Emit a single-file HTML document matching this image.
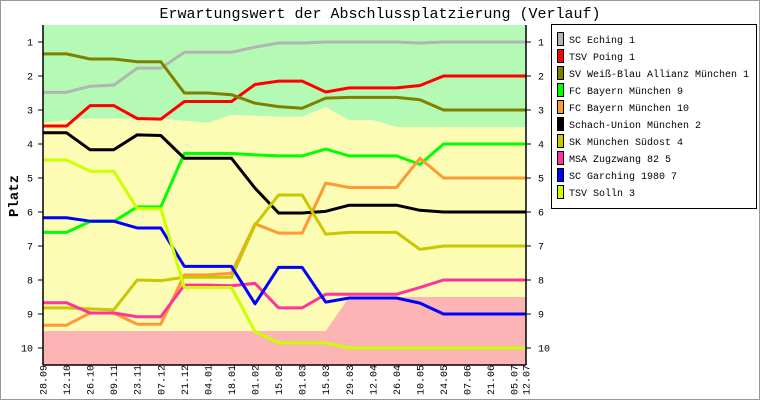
<!DOCTYPE html>
<html><head><meta charset="utf-8"><style>
html,body{margin:0;padding:0;background:#fff}
svg{display:block}
text{font-family:"Liberation Mono",monospace}
</style></head><body>
<svg id="chart" width="760" height="400" viewBox="0 0 760 400">
<rect x="0.5" y="0.5" width="759" height="399" fill="#fff" stroke="#999"/>
<text x="380" y="18" text-anchor="middle" font-size="15">Erwartungswert der Abschlussplatzierung (Verlauf)</text>
<g id="plot"></g>
<text transform="translate(18,196) rotate(-90)" text-anchor="middle" font-size="14" font-weight="bold">Platz</text>
<g id="legend"></g>
</svg>
<script>
const dates=["28.09","12.10","26.10","09.11","23.11","07.12","21.12","04.01","18.01","01.02","15.02","01.03","15.03","29.03","12.04","26.04","10.05","24.05","07.06","21.06","05.07","12.07"];
const days=[0,14,28,42,56,70,84,98,112,126,140,154,168,182,196,210,224,238,252,266,280,287];
const yTicks=[1,2,3,4,5,6,7,8,9,10];
const names=["SC Eching 1","TSV Poing 1","SV Weiß-Blau Allianz München 1","FC Bayern München 9","FC Bayern München 10","Schach-Union München 2","SK München Südost 4","MSA Zugzwang 82 5","SC Garching 1980 7","TSV Solln 3"];
const colors=["#b4b4b4","#ff0000","#808000","#00ff00","#ff9933","#000000","#c8c800","#ff3399","#0000ff","#ccff00"];
const sEching=[2.48,2.48,2.3,2.27,1.77,1.77,1.3,1.3,1.3,1.15,1.03,1.03,1.0,1.0,1.0,1.0,1.03,1,1,1,1,1];
const sPoing=[3.47,3.47,2.87,2.87,3.25,3.27,2.75,2.75,2.75,2.25,2.15,2.15,2.47,2.35,2.35,2.35,2.28,2,2,2,2,2];
const sWeissBlau=[1.35,1.35,1.5,1.5,1.58,1.58,2.5,2.5,2.55,2.8,2.9,2.95,2.65,2.63,2.63,2.63,2.7,3,3,3,3,3];
const sFCB9=[6.6,6.6,6.28,6.28,5.85,5.85,4.28,4.28,4.28,4.32,4.35,4.35,4.15,4.35,4.35,4.35,4.6,4,4,4,4,4];
const sFCB10=[9.33,9.33,8.97,8.97,9.3,9.3,7.85,7.85,7.8,6.35,6.62,6.62,5.15,5.28,5.28,5.28,4.42,5,5,5,5,5];
const sSchach=[3.67,3.67,4.17,4.17,3.73,3.75,4.42,4.42,4.42,5.3,6.03,6.03,5.98,5.8,5.8,5.8,5.95,6,6,6,6,6];
const sSuedost=[8.82,8.82,8.85,8.88,8.0,8.02,7.92,7.92,7.92,6.38,5.5,5.5,6.65,6.6,6.6,6.6,7.1,7,7,7,7,7];
const sZugzwang=[8.67,8.67,8.97,8.97,9.08,9.08,8.15,8.15,8.17,8.1,8.82,8.82,8.42,8.42,8.42,8.42,8.22,8,8,8,8,8];
const sGarching=[6.17,6.17,6.27,6.27,6.47,6.47,7.6,7.6,7.6,8.7,7.63,7.63,8.65,8.53,8.53,8.53,8.68,9,9,9,9,9];
const sSolln=[4.47,4.47,4.8,4.8,5.9,5.9,8.22,8.22,8.22,9.52,9.85,9.85,9.85,10,10,10,10,10,10,10,10,10];
const bandTop=[3.38,3.3,3.25,3.25,3.25,3.25,3.32,3.38,3.15,3.17,3.2,3.2,2.92,3.3,3.3,3.5,3.5,3.5,3.5,3.5,3.5,3.5];
const bandBottom=[9.5,9.5,9.5,9.5,9.5,9.5,9.5,9.5,9.5,9.5,9.5,9.5,9.5,8.5,8.5,8.5,8.5,8.5,8.5,8.5,8.5,8.5];
const series=[sEching,sPoing,sWeissBlau,sFCB9,sFCB10,sSchach,sSuedost,sZugzwang,sGarching,sSolln];

const NS="http://www.w3.org/2000/svg";
const L=43,R=526,T=25,B=365;
const xS=d=>L+(d-days[0])/(days[days.length-1]-days[0])*(R-L);
const yS=v=>42+(v-1)*34;
function mk(tag,attrs,parent){const e=document.createElementNS(NS,tag);for(const k in attrs)e.setAttribute(k,attrs[k]);parent.appendChild(e);return e;}
const plot=document.getElementById('plot');

let pts=days.map((d,i)=>xS(d)+","+yS(bandTop[i]));
let g=mk('polygon',{points:`${L},${T} ${R},${T} ${R},${yS(bandTop[bandTop.length-1])} `+pts.slice().reverse().join(" "),fill:"#b4fab4"},plot);


let yb=mk('polygon',{points:pts.join(" ")+" "+days.map((d,i)=>xS(d)+","+yS(bandBottom[i])).reverse().join(" "),fill:"#fdfcb4"},plot);


let pb=mk('polygon',{points:days.map((d,i)=>xS(d)+","+yS(bandBottom[i])).join(" ")+` ${R},${B} ${L},${B}`,fill:"#fdb4b4"},plot);



series.forEach((s,k)=>{
  const p=mk('polyline',{points:s.map((v,i)=>xS(days[i])+","+yS(v)).join(" "),fill:"none",stroke:colors[k],"stroke-width":3,"stroke-linejoin":"round"},plot);
  
  
});

mk('line',{x1:L,y1:T,x2:L,y2:B,stroke:"#000","stroke-width":1.5},plot);
mk('line',{x1:R,y1:T,x2:R,y2:B,stroke:"#000","stroke-width":1.5},plot);
mk('line',{x1:L,y1:B,x2:R,y2:B,stroke:"#000","stroke-width":1.5},plot);
yTicks.forEach(t=>{
  mk('line',{x1:L-5,y1:yS(t),x2:L,y2:yS(t),stroke:"#000"},plot);
  mk('line',{x1:R,y1:yS(t),x2:R+5,y2:yS(t),stroke:"#000"},plot);
  const a=mk('text',{x:33,y:yS(t)+3.5,"text-anchor":"end","font-size":10},plot);a.textContent=t;
  
  
  const b=mk('text',{x:538,y:yS(t)+3.5,"font-size":10},plot);b.textContent=t;
  
  
});
dates.forEach((d,i)=>{
  const x=xS(days[i]);
  const t=mk('text',{transform:`translate(${x+3.5},395) rotate(-90)`,"font-size":10},plot);t.textContent=d;
  
  
});

const lg=document.getElementById('legend');
mk('rect',{x:551.5,y:24.5,width:205,height:184,fill:"#fff",stroke:"#000"},lg);
names.forEach((n,k)=>{
  const y=32+k*17;
  const r=mk('rect',{x:557.5,y:y+0.5,width:6,height:13,fill:colors[k],stroke:"#000"},lg);
  
  
  const t=mk('text',{x:569,y:y+11,"font-size":10},lg);t.textContent=n;
  
  
});
</script>
</body></html>
